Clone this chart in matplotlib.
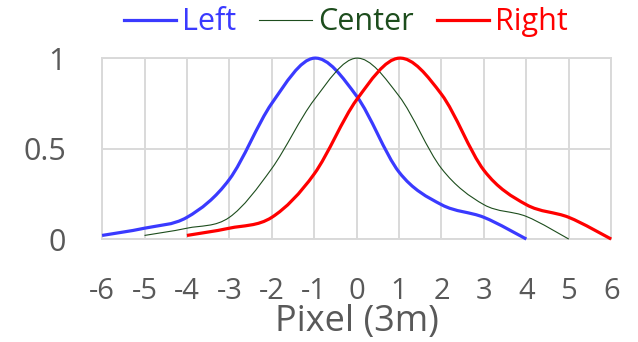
import matplotlib
matplotlib.use("Agg")
import matplotlib.pyplot as plt
import numpy as np
from matplotlib.path import Path
from matplotlib.patches import PathPatch
from matplotlib.lines import Line2D

plt.rcParams["font.family"] = ["Open Sans", "DejaVu Sans"]

# values
left_x = [-6, -5, -4, -3, -2, -1, 0, 1, 2, 3, 4]
left_y = [0.02, 0.06, 0.12, 0.33, 0.75, 1.0, 0.79, 0.37, 0.19, 0.12, 0.0]

center_x = [-5, -4, -3, -2, -1, 0, 1, 2, 3, 4, 5]
center_y = [0.02, 0.06, 0.12, 0.39, 0.77, 1.0, 0.79, 0.39, 0.19, 0.125, 0.0]

right_x = [-4, -3, -2, -1, 0, 1, 2, 3, 4, 5, 6]
right_y = [0.02, 0.06, 0.12, 0.36, 0.77, 1.0, 0.80, 0.38, 0.19, 0.12, 0.0]

x_ticks = [-6, -5, -4, -3, -2, -1, 0, 1, 2, 3, 4, 5, 6]
y_ticks = [0, 0.5, 1]
y_labels = ["0", "0.5", "1"]

series = [
    ("Left", left_x, left_y, "#3a3aff", 2.3),
    ("Center", center_x, center_y, "#1d4d1d", 0.8),
    ("Right", right_x, right_y, "#ff0000", 2.3),
]

GRID = "#d9d9d9"
TEXT = "#595959"


def smooth_path(xs, ys):
    """Excel-style smoothed line: Catmull-Rom turned into cubic Beziers."""
    pts = np.column_stack([xs, ys]).astype(float)
    n = len(pts)
    verts = [pts[0]]
    codes = [Path.MOVETO]
    for i in range(n - 1):
        p0 = pts[max(i - 1, 0)]
        p1 = pts[i]
        p2 = pts[i + 1]
        p3 = pts[min(i + 2, n - 1)]
        verts += [p1 + (p2 - p0) / 6, p2 - (p3 - p1) / 6, p2]
        codes += [Path.CURVE4] * 3
    return Path(verts, codes)


fig = plt.figure(figsize=(6.38, 3.42), dpi=100)
ax = fig.add_axes([0.16, 0.301, 0.798, 0.529])

handles = []
for name, xs, ys, color, lw in series:
    patch = PathPatch(smooth_path(xs, ys), facecolor="none", edgecolor=color,
                      linewidth=lw, clip_on=False, zorder=3)
    ax.add_patch(patch)
    handles.append(Line2D([], [], color=color, linewidth=lw, label=name))

ax.set_xlim(-6, 6)
ax.set_ylim(0, 1)
ax.set_xticks(x_ticks)
ax.set_xticklabels([str(t) for t in x_ticks])
ax.set_yticks(y_ticks)
ax.set_yticklabels(y_labels)
ax.grid(True, color=GRID, linewidth=1.4)
ax.set_axisbelow(True)
for sp in ax.spines.values():
    sp.set_color(GRID)
    sp.set_linewidth(1.4)
ax.tick_params(length=0, colors=TEXT)
ax.tick_params(axis="x", pad=27, labelsize=21)
ax.tick_params(axis="y", pad=26, labelsize=22)
ax.set_xlabel("Pixel (3m)", fontsize=26, color=TEXT, labelpad=-1)

fig.legend(handles=handles, loc="center", bbox_to_anchor=(0.542, 0.935),
           ncol=3, frameon=False, fontsize=22, labelcolor="linecolor",
           handlelength=1.72, handletextpad=0.2, columnspacing=0.75)

fig.savefig("out.png", dpi=100)
